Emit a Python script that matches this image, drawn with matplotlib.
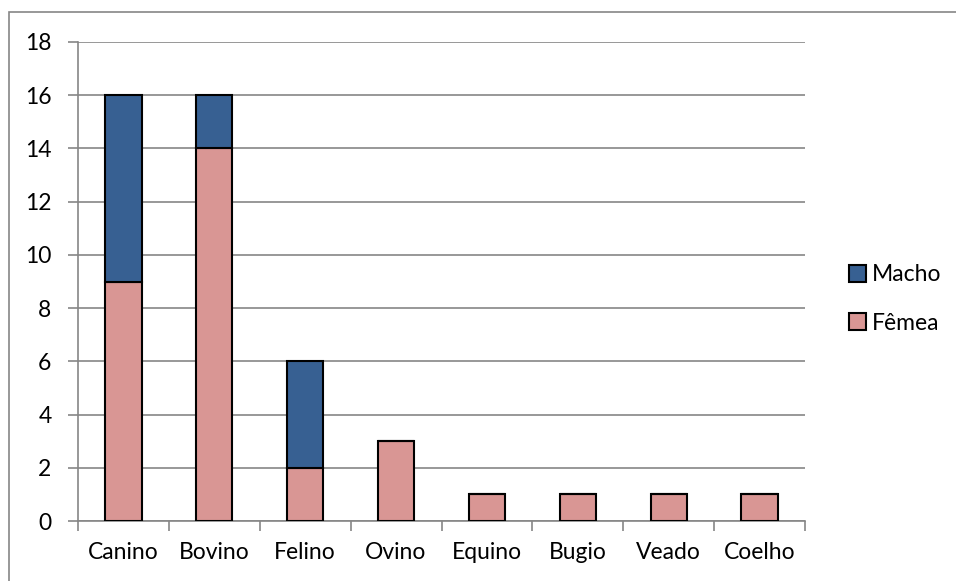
import matplotlib
matplotlib.use("Agg")
import matplotlib.pyplot as plt
from matplotlib.patches import Rectangle

# dados
especies = ["Canino", "Bovino", "Felino", "Ovino", "Equino", "Bugio", "Veado", "Coelho"]
femea = [9, 14, 2, 3, 1, 1, 1, 1]
macho = [7, 2, 4, 0, 0, 0, 0, 0]
yticks = list(range(0, 19, 2))

cor_macho = "#376092"
cor_femea = "#D99694"
cinza = "#868686"

plt.rcParams["font.family"] = ["Lato", "DejaVu Sans"]
fs = 16.5

W, H = 956, 581
fig = plt.figure(figsize=(W / 100, H / 100), dpi=100)
ax = fig.add_axes([78 / W, 1 - 521 / H, (805 - 78) / W, (521 - 42) / H])

x = list(range(len(especies)))
ax.bar(x, femea, width=0.4, color=cor_femea, edgecolor="black", linewidth=1.5,
       label="Fêmea", zorder=3)
ax.bar(x, macho, width=0.4, bottom=femea, color=cor_macho, edgecolor="black",
       linewidth=1.5, label="Macho", zorder=3)

ax.set_xlim(-0.5, len(especies) - 0.5)
ax.set_ylim(0, 18)
ax.set_yticks(yticks)
ax.grid(axis="y", color=cinza, linewidth=1.2, zorder=0)
ax.set_xticks([i - 0.5 for i in range(len(especies) + 1)], minor=False)
ax.set_xticklabels([])
ax.set_xticks(x, minor=True)
ax.set_xticklabels(especies, minor=True, fontsize=fs)
ax.tick_params(axis="x", which="minor", length=0, pad=15)
ax.tick_params(axis="x", which="major", length=7, color=cinza, width=1.2)
ax.tick_params(axis="y", length=7, color=cinza, width=1.2, labelsize=fs, pad=12)

for s in ["top", "right"]:
    ax.spines[s].set_visible(False)
for s in ["left", "bottom"]:
    ax.spines[s].set_color(cinza)
    ax.spines[s].set_linewidth(1.2)

h, l = ax.get_legend_handles_labels()
fig.legend(h[::-1], l[::-1], loc="center left", bbox_to_anchor=(828 / W, 1 - 299 / H),
           frameon=False, fontsize=fs, handlelength=0.75, handleheight=0.75,
           handletextpad=0.25, labelspacing=1.2)

# moldura
fig.add_artist(Rectangle((9 / W, -0.1), 1.2, 1 - 12 / H + 0.1, transform=fig.transFigure,
                         fill=False, edgecolor=cinza, linewidth=1.2))

fig.savefig("out.png", dpi=100)
